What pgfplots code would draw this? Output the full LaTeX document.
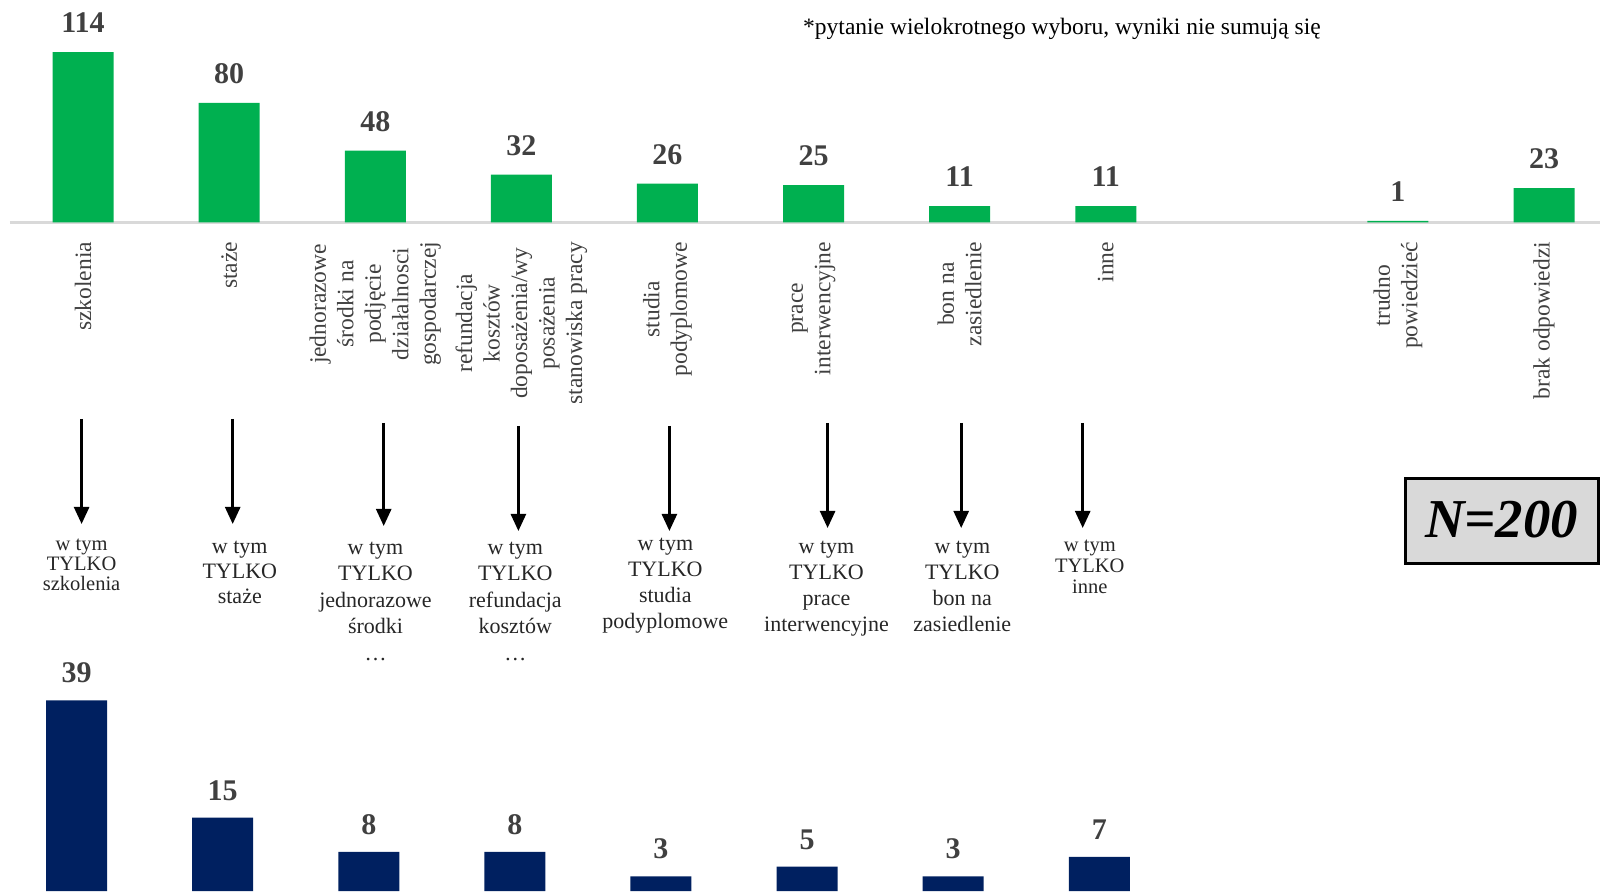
\documentclass[border=0pt]{standalone}
\usepackage{fontspec}
\setmainfont{Liberation Serif}
\usepackage{pgfplots}
\pgfplotsset{compat=1.18}
\usetikzlibrary{arrows.meta}
\definecolor{bargreen}{HTML}{00B050}
\definecolor{barnavy}{HTML}{002060}
\definecolor{linegray}{HTML}{D9D9D9}
\definecolor{numgray}{HTML}{404040}
\definecolor{labgray}{HTML}{404040}
\definecolor{boxtext}{HTML}{262626}
\definecolor{boxgray}{HTML}{D9D9D9}
\begin{document}
\begin{tikzpicture}[x=1pt,y=1pt]
\path[use as bounding box] (0,0) rectangle (1600,891);
% ---------------- top chart ----------------
\begin{axis}[
  at={(10pt,668.5pt)}, anchor=south west, scale only axis,
  width=1607.1pt, height=224.25pt,
  xmin=-0.5, xmax=10.5, ymin=0, ymax=150,
  axis x line=bottom, axis y line=none,
  x axis line style={draw=linegray, line width=3pt, -},
  ytick=\empty,
  xtick={0,1,2,3,4,5,6,7,9,10},
  xticklabels={szkolenia, staże,
    {jednorazowe\\środki na\\podjęcie\\działalnosci\\gospodarczej},
    {refundacja\\kosztów\\doposażenia/wy\\posażenia\\stanowiska pracy},
    {studia\\podyplomowe},
    {prace\\interwencyjne},
    {bon na\\zasiedlenie},
    inne,
    {trudno\\powiedzieć},
    brak odpowiedzi},
  xtick style={draw=none},
  xticklabel shift=15pt,
  xticklabel style={rotate=90, anchor=east, align=center, inner sep=0pt,
    font=\fontsize{23.5}{27.5}\selectfont, text=labgray},
  ybar, bar width=61pt,
  nodes near coords,
  /pgf/number format/assume math mode=true,
  every node near coord/.append style={font=\bfseries\fontsize{30}{32}\selectfont,
    text=numgray, anchor=south, inner sep=0pt, yshift=19pt},
  clip=false,
]
\addplot[fill=bargreen, draw=none] coordinates {
  (0,114) (1,80) (2,48) (3,32) (4,26) (5,25) (6,11) (7,11) (9,1) (10,23)};
\end{axis}
% ---------------- bottom chart ----------------
\begin{axis}[
  at={(3.5pt,0pt)}, anchor=south west, scale only axis,
  width=1607.1pt, height=220.05pt,
  xmin=-0.5, xmax=10.5, ymin=0, ymax=45,
  axis lines=none,
  ybar, bar width=61pt,
  nodes near coords,
  /pgf/number format/assume math mode=true,
  every node near coord/.append style={font=\bfseries\fontsize{30}{32}\selectfont,
    text=numgray, anchor=south, inner sep=0pt, yshift=17pt},
  clip=false,
]
\addplot[fill=barnavy, draw=none] coordinates {
  (0,39) (1,15) (2,8) (3,8) (4,3) (5,5) (6,3) (7,7)};
\end{axis}
% ---------------- arrows ----------------
\begin{scope}[line width=2.6pt, -{Triangle[length=17pt,width=15pt]}]
\draw (81.6,472) -- (81.6,367);
\draw (232.7,472) -- (232.7,367);
\draw (383.7,468) -- (383.7,365);
\draw (518.4,465) -- (518.4,360);
\draw (669.4,465) -- (669.4,360);
\draw (827.6,468) -- (827.6,363);
\draw (961.2,468) -- (961.2,363);
\draw (1082.7,468) -- (1082.7,363);
\end{scope}
% ---------------- "w tym TYLKO" texts ----------------
\begin{scope}[every node/.style={align=center, text=boxtext, inner sep=0pt}]
\node[font=\fontsize{20.5}{20}\selectfont] at (81.6,326) {w tym\\TYLKO\\szkolenia};
\node[font=\fontsize{22}{25}\selectfont] at (239.8,319) {w tym\\TYLKO\\staże};
\node[font=\fontsize{22}{26.5}\selectfont] at (375.5,290) {w tym\\TYLKO\\jednorazowe\\środki\\…};
\node[font=\fontsize{22}{26.5}\selectfont] at (515.3,290) {w tym\\TYLKO\\refundacja\\kosztów\\…};
\node[font=\fontsize{22}{26}\selectfont] at (665.3,305) {w tym\\TYLKO\\studia\\podyplomowe};
\node[font=\fontsize{22}{26}\selectfont] at (826.5,302) {w tym\\TYLKO\\prace\\interwencyjne};
\node[font=\fontsize{22}{26}\selectfont] at (962.3,305) {w tym\\TYLKO\\bon na\\zasiedlenie};
\node[font=\fontsize{20.5}{21}\selectfont] at (1089.8,324) {w tym\\TYLKO\\inne};
\end{scope}
% ---------------- footnote ----------------
\node[font=\fontsize{23.5}{28}\selectfont, inner sep=0pt] at (1062,862) {*pytanie wielokrotnego wyboru, wyniki nie sumują się};
% ---------------- N box ----------------
\draw[line width=3pt, fill=boxgray] (1405.5,412) rectangle (1598.5,327);
\node[font=\bfseries\itshape\fontsize{54.8}{60}\selectfont, inner sep=0pt] at (1501.5,371) {N=200};
\end{tikzpicture}
\end{document}
